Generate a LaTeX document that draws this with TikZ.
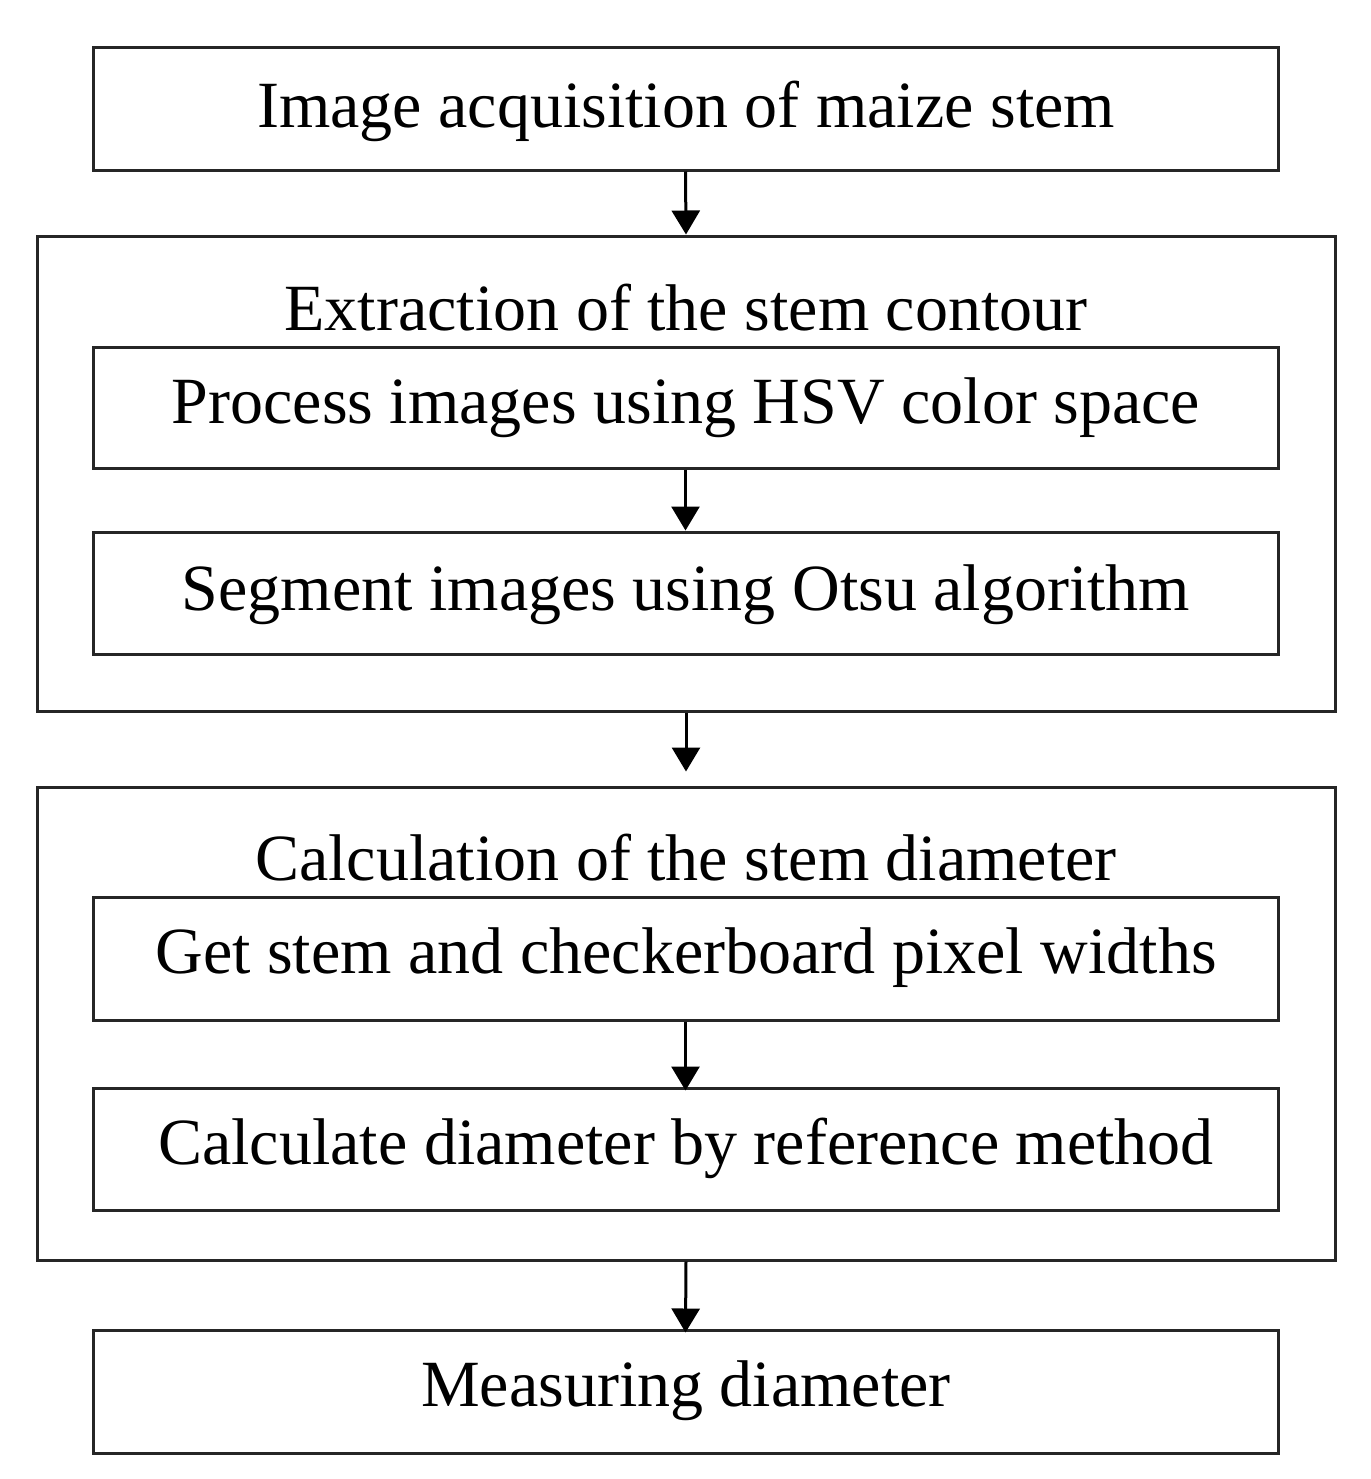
\documentclass[tikz,border=0pt]{standalone}
\usepackage{fontspec}
\setmainfont{Liberation Serif}
\usetikzlibrary{arrows.meta}
\begin{document}
\begin{tikzpicture}[x=0.5pt,y=-0.5pt,
  box/.style={draw=black!85,line width=1.5pt},
  lbl/.style={font=\fontsize{33}{38}\selectfont,inner sep=0pt},
  arr/.style={draw,line width=1.5pt,-{Triangle[length=12pt,width=14pt]}}]
\useasboundingbox (0,0) rectangle (1371,1479);
\node[box,minimum width=592.5pt,minimum height=61.5pt,inner sep=0pt] (b1) at (685.5,108.5) {};
\node[lbl] (t1) at (686,111) {Image acquisition of maize stem};
\node[box,minimum width=649pt,minimum height=237.5pt,inner sep=0pt] (o1) at (686,473.5) {};
\node[lbl] (h1) at (686,308) {Extraction of the stem contour};
\node[box,minimum width=592.5pt,minimum height=60.5pt,inner sep=0pt] (a) at (685.5,407.5) {};
\node[lbl] (ta) at (686,408) {Process images using HSV color space};
\node[box,minimum width=592.5pt,minimum height=61pt,inner sep=0pt] (b) at (685.5,593) {};
\node[lbl] (tb) at (686,595) {Segment images using Otsu algorithm};
\node[box,minimum width=649pt,minimum height=236.5pt,inner sep=0pt] (o2) at (686,1023.5) {};
\node[lbl] (h2) at (686,858) {Calculation of the stem diameter};
\node[box,minimum width=592.5pt,minimum height=61.5pt,inner sep=0pt] (c) at (685.5,958.5) {};
\node[lbl] (tc) at (686,958) {Get stem and checkerboard pixel widths};
\node[box,minimum width=592.5pt,minimum height=61pt,inner sep=0pt] (d) at (685.5,1149) {};
\node[lbl] (td) at (686,1148) {Calculate diameter by reference method};
\node[box,minimum width=592.5pt,minimum height=61.5pt,inner sep=0pt] (e) at (685.5,1391.5) {};
\node[lbl] (te) at (686,1391) {Measuring diameter};
\draw[arr] (b1.south) -- (o1.north);
\draw[arr] (a.south) -- (b.north);
\draw[arr] (o1.south) -- ([yshift=7pt]o2.north);
\draw[arr] (c.south) -- ([yshift=-2pt]d.north);
\draw[arr] (o2.south) -- ([yshift=-2pt]e.north);
\end{tikzpicture}
\end{document}
